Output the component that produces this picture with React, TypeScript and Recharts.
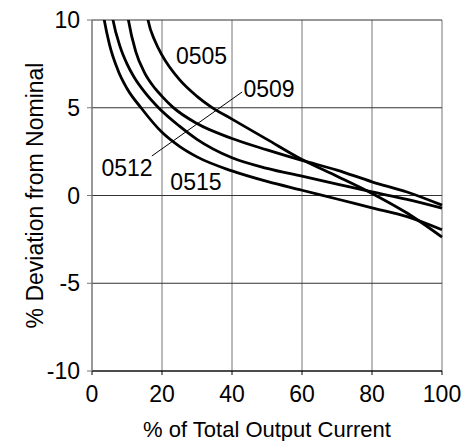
import { LineChart, Line, XAxis, YAxis, CartesianGrid, ReferenceDot, ReferenceLine } from 'recharts';

// % of total output current (x) and % deviation from nominal (y)
const x0505 = [14.5, 16, 18, 20, 25, 30, 34, 40, 50, 60, 70, 80, 90, 100];
const y0505 = [12, 10, 8.8, 8.0, 6.6, 5.65, 5.05, 4.35, 3.2, 2.05, 1.1, 0.12, -1.0, -2.37];

const x0509 = [9, 10.4, 12.5, 15, 18, 20, 23, 30, 40, 50, 60, 70, 80, 90, 100];
const y0509 = [12, 10, 8.2, 7.0, 6.1, 5.65, 5.05, 4.1, 3.25, 2.6, 2.0, 1.45, 0.78, 0.2, -0.55];

const x0512 = [4.5, 6, 8, 10, 12, 15, 19, 25, 30, 40, 50, 60, 70, 80, 90, 100];
const y0512 = [12, 10, 8.5, 7.5, 6.75, 5.9, 5.0, 3.95, 3.2, 2.15, 1.55, 1.1, 0.65, 0.2, -0.22, -0.72];

const x0515 = [2, 3.5, 5, 7.5, 10, 14, 20, 25, 30, 40, 50, 60, 70, 80, 90, 100];
const y0515 = [12, 10, 8.6, 7.1, 6.1, 5.0, 3.6, 2.8, 2.2, 1.4, 0.8, 0.3, -0.2, -0.7, -1.2, -1.95];

const xTicks = [0, 20, 40, 60, 80, 100];
const yTicks = [-10, -5, 0, 5, 10];

// curve names and where their labels sit, in data units
const labelNames = ['0505', '0509', '0512', '0515'];
const labelX = [31.3, 50.6, 10, 29.7];
const labelY = [7.93, 6.07, 1.56, 0.76];

// leader line from the 0509 label
const leaderX = [42.9, 17.1];
const leaderY = [5.9, 2.25];

const zip = (xs: number[], ys: number[]) => xs.map((x, i) => ({ x, y: ys[i] }));

const series = [
  { name: '0505', data: zip(x0505, y0505) },
  { name: '0509', data: zip(x0509, y0509) },
  { name: '0512', data: zip(x0512, y0512) },
  { name: '0515', data: zip(x0515, y0515) },
];

const font = '"Liberation Sans", Arial, sans-serif';

export default function App() {
  return (
    <div style={{ position: 'absolute', left: 0, top: 0, fontFamily: font }}>
      <LineChart width={470} height={441} margin={{ top: 20, right: 28, bottom: 0, left: 0 }}>
        <CartesianGrid horizontal={false} stroke="#777" />
        <CartesianGrid vertical={false} stroke="#333" />
        <XAxis
          type="number"
          dataKey="x"
          domain={[0, 100]}
          ticks={xTicks}
          height={70}
          stroke="#000"
          tickSize={4}
          tickMargin={11}
          tick={{ fill: '#000', fontSize: 23, fontFamily: font }}
          label={{
            value: '% of Total Output Current',
            position: 'insideBottom',
            offset: 4,
            fill: '#000',
            fontSize: 22,
            fontFamily: font,
          }}
        />
        <YAxis
          type="number"
          dataKey="y"
          domain={[-10, 10]}
          ticks={yTicks}
          allowDataOverflow
          width={92}
          stroke="#777"
          tickSize={5}
          tickMargin={7}
          tick={{ fill: '#000', fontSize: 23, fontFamily: font }}
          label={{
            value: '% Deviation from Nominal',
            angle: -90,
            position: 'insideLeft',
            offset: 35,
            fill: '#000',
            fontSize: 23,
            fontFamily: font,
            style: { textAnchor: 'middle' },
          }}
        />
        {series.map((s) => (
          <Line
            key={s.name}
            data={s.data}
            dataKey="y"
            type="monotone"
            stroke="#000"
            strokeWidth={2.8}
            dot={false}
            isAnimationActive={false}
          />
        ))}
        <ReferenceLine
          segment={[
            { x: leaderX[0], y: leaderY[0] },
            { x: leaderX[1], y: leaderY[1] },
          ]}
          stroke="#000"
          strokeWidth={1}
        />
        {labelNames.map((n, i) => (
          <ReferenceDot
            key={n}
            x={labelX[i]}
            y={labelY[i]}
            r={1}
            fill="none"
            stroke="none"
            label={{ value: n, position: 'center', fill: '#000', fontSize: 23, fontFamily: font }}
          />
        ))}
      </LineChart>
    </div>
  );
}
